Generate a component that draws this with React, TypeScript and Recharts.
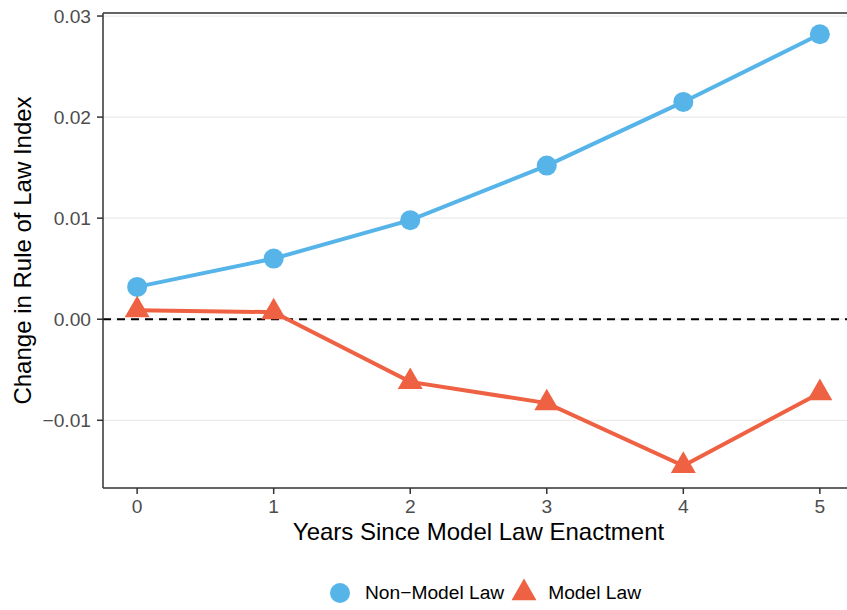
import { LineChart, Line, XAxis, YAxis, CartesianGrid, ReferenceLine, Legend } from "recharts";

const BLUE = "#56B4E9";
const RED = "#EE6142";
const FONT = '"Liberation Sans", Arial, Helvetica, sans-serif';

// values
const years = [0, 1, 2, 3, 4, 5];
const nonModelLaw = [0.0032, 0.006, 0.0098, 0.0152, 0.0215, 0.0282];
const modelLaw = [0.0009, 0.0007, -0.0062, -0.0083, -0.0145, -0.0073];
const yTicks = [-0.01, 0, 0.01, 0.02, 0.03];
const xTicks = [0, 1, 2, 3, 4, 5];
const yDomain = [-0.0167, 0.0303];
const xDomain = [-0.25, 5.25];

const data = years.map((year, i) => ({
  year,
  nonModel: nonModelLaw[i],
  model: modelLaw[i],
}));

const fmtY = (v: number) => (v < 0 ? "\u2212" : "") + Math.abs(v).toFixed(2);

// ggplot-style filled triangle (pch 17), centred on the point
const triPoints = (cx: number, cy: number, r: number) =>
  `${cx},${cy - r} ${cx + 0.866 * r},${cy + r / 2} ${cx - 0.866 * r},${cy + r / 2}`;

const TriangleDot = (props: any) => {
  const { cx, cy, index } = props;
  if (cx == null || cy == null) return <g key={`t-${index}`} />;
  return <polygon key={`t-${index}`} points={triPoints(cx, cy, 14.4)} fill={RED} />;
};

const XLabel = (props: any) => {
  const vb = props.viewBox || { x: 103, y: 488, width: 751, height: 70 };
  return (
    <text x={vb.x + vb.width / 2} y={vb.y + 52} textAnchor="middle" fontSize={24} fill="#000" fontFamily={FONT}>
      Years Since Model Law Enactment
    </text>
  );
};

const YLabel = (props: any) => {
  const vb = props.viewBox || { x: 0, y: 13, width: 103, height: 475 };
  const cx = vb.x + 30.5;
  const cy = vb.y + vb.height / 2;
  return (
    <text x={cx} y={cy} transform={`rotate(-90, ${cx}, ${cy})`} textAnchor="middle" fontSize={24} fill="#000" fontFamily={FONT}>
      Change in Rule of Law Index
    </text>
  );
};

const LegendContent = () => (
  <div
    style={{
      height: 52,
      boxSizing: "border-box",
      paddingTop: 18,
      paddingLeft: 328,
      display: "flex",
      alignItems: "center",
      fontFamily: FONT,
      fontSize: 19.2,
      color: "#000",
      whiteSpace: "nowrap",
    }}
  >
    <svg width={24} height={24} style={{ overflow: "visible" }}>
      <circle cx={12} cy={12} r={10} fill={BLUE} />
    </svg>
    <span style={{ marginLeft: 13 }}>Non{"\u2212"}Model Law</span>
    <svg width={26} height={26} style={{ overflow: "visible", marginLeft: 7 }}>
      <polygon points={triPoints(13, 13, 14.4)} fill={RED} />
    </svg>
    <span style={{ marginLeft: 11 }}>Model Law</span>
  </div>
);

export default function App() {
  return (
    <div style={{ position: "fixed", left: 0, top: 0, width: 847, height: 610, overflow: "hidden", background: "#fff" }}>
      <LineChart
        width={860}
        height={610}
        data={data}
        margin={{ top: 13, right: 6, bottom: 0, left: 0 }}
        style={{ fontFamily: FONT }}
      >
        <CartesianGrid vertical={false} stroke="#EBEBEB" strokeWidth={1.2} />
        <XAxis
          dataKey="year"
          type="number"
          domain={xDomain}
          ticks={xTicks}
          allowDataOverflow
          height={70}
          tickSize={6}
          tickMargin={5}
          tick={{ fill: "#4D4D4D", fontSize: 19.2 }}
          axisLine={{ stroke: "#333333", strokeWidth: 1.5 }}
          tickLine={{ stroke: "#333333", strokeWidth: 1.5 }}
          label={XLabel}
        />
        <YAxis
          type="number"
          domain={yDomain}
          ticks={yTicks}
          allowDataOverflow
          width={103}
          tickSize={6}
          tickMargin={6}
          tickFormatter={fmtY}
          tick={{ fill: "#4D4D4D", fontSize: 19.2 }}
          axisLine={{ stroke: "#333333", strokeWidth: 1.5 }}
          tickLine={{ stroke: "#333333", strokeWidth: 1.5 }}
          label={YLabel}
        />
        <ReferenceLine y={yDomain[1]} stroke="#333333" strokeWidth={1.5} />
        <ReferenceLine y={0} stroke="#000" strokeWidth={2} strokeDasharray="8 6" />
        <Legend verticalAlign="bottom" height={52} content={LegendContent} />
        <Line
          type="linear"
          dataKey="nonModel"
          name="Non-Model Law"
          stroke={BLUE}
          strokeWidth={4}
          dot={{ r: 10, fill: BLUE, stroke: BLUE, strokeWidth: 0 }}
          activeDot={false}
          isAnimationActive={false}
        />
        <Line
          type="linear"
          dataKey="model"
          name="Model Law"
          stroke={RED}
          strokeWidth={4}
          dot={TriangleDot}
          activeDot={false}
          isAnimationActive={false}
        />
      </LineChart>
    </div>
  );
}
